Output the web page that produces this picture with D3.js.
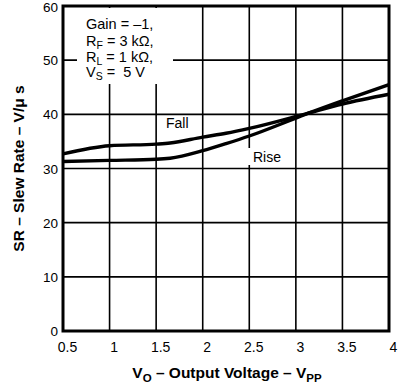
<!DOCTYPE html>
<html><head><meta charset="utf-8">
<script src="https://cdn.jsdelivr.net/npm/d3@7"></script>
<style>body{margin:0;background:#fff}svg{display:block}text{font-family:"Liberation Sans",Arial,sans-serif;fill:#000}</style>
</head><body>
<svg id="c" width="400" height="387"></svg>
<script>
const xVals = [0.5, 1, 1.5, 1.65, 2, 2.25, 2.5, 3, 3.15, 3.5, 4];
const fall  = [32.7, 34.2, 34.5, 34.7, 35.8, 36.5, 37.4, 39.6, 40.3, 41.9, 43.7];
const rise  = [31.3, 31.5, 31.7, 31.9, 33.3, 34.6, 36.0, 39.3, 40.3, 42.5, 45.5];
const xTicks = [0.5, 1, 1.5, 2, 2.5, 3, 3.5, 4];
const yTicks = [0, 10, 20, 30, 40, 50, 60];

const L = 63, R = 389, T = 6, B = 331;
const svg = d3.select("#c");
const x = d3.scaleLinear().domain([0.5, 4]).range([L, R]);
const y = d3.scaleLinear().domain([0, 60]).range([B, T]);

// grid
const g = svg.append("g");
g.selectAll(".vx").data(xTicks).enter().append("line")
  .attr("x1", d => x(d)).attr("x2", d => x(d)).attr("y1", T).attr("y2", B)
  .attr("stroke", "#000").attr("stroke-width", 1.6);
g.selectAll(".hy").data(yTicks).enter().append("line")
  .attr("x1", L).attr("x2", R).attr("y1", d => y(d)).attr("y2", d => y(d))
  .attr("stroke", "#000").attr("stroke-width", 1.6);

// white boxes behind labels
svg.append("rect").attr("x", 77).attr("y", T + 2).attr("width", 96).attr("height", 76).attr("fill", "#fff");
svg.append("rect").attr("x", 247).attr("y", 148).attr("width", 40).attr("height", 17).attr("fill", "#fff");

// frame
svg.append("rect").attr("x", L).attr("y", T).attr("width", R - L).attr("height", B - T)
  .attr("fill", "none").attr("stroke", "#000").attr("stroke-width", 3);

// curves
const line = d3.line().x((d, i) => x(xVals[i])).y(d => y(d)).curve(d3.curveMonotoneX);
[fall, rise].forEach(s => {
  svg.append("path").attr("d", line(s)).attr("fill", "none")
    .attr("stroke", "#000").attr("stroke-width", 3.4).attr("stroke-linejoin", "round");
});

// axes labels
const xAxis = d3.axisBottom(x).tickValues(xTicks).tickSize(0).tickFormat(d3.format("~g"));
const ax = svg.append("g").attr("transform", `translate(0,${B})`).call(xAxis);
ax.select(".domain").remove();
ax.selectAll("text").attr("dx", 4).attr("dy", 0).attr("y", 21).style("font-size", "14px")
  .style("font-family", '"Liberation Sans",Arial,sans-serif');

const yAxis = d3.axisLeft(y).tickValues(yTicks).tickSize(0);
const ay = svg.append("g").attr("transform", `translate(${L},0)`).call(yAxis);
ay.select(".domain").remove();
ay.selectAll("text").attr("x", -5).attr("dy", "0.34em").style("font-size", "13.5px")
  .style("font-family", '"Liberation Sans",Arial,sans-serif');
ay.selectAll(".tick").filter(d => d === 60).select("text").attr("dy", "0.4em");

// annotation
const rows = [["Gain = \u20131,", null, ""], ["R", "F", " = 3 k\u03A9,"], ["R", "L", " = 1 k\u03A9,"], ["V", "S", " =\u00A0 5 V"]];
const baseY = [29, 45.5, 61.5, 77];
rows.forEach((r, i) => {
  const t = svg.append("text").attr("x", 86).attr("y", baseY[i]).style("font-size", "14.5px");
  t.append("tspan").text(r[0]);
  if (r[1]) {
    t.append("tspan").attr("dy", 3).style("font-size", "10.5px").text(r[1]);
    t.append("tspan").attr("dy", -3).text(r[2]);
  }
});

svg.append("text").attr("x", 166).attr("y", 128).style("font-size", "14px").text("Fall");
svg.append("text").attr("x", 253).attr("y", 162).style("font-size", "14px").text("Rise");

// x title
const xt = svg.append("text").attr("x", 227).attr("y", 378).attr("text-anchor", "middle")
  .style("font-size", "15.5px").style("font-weight", "bold");
xt.append("tspan").text("V");
xt.append("tspan").attr("dy", 4).style("font-size", "11.5px").text("O");
xt.append("tspan").attr("dy", -4).text(" \u2013 Output Voltage \u2013 V");
xt.append("tspan").attr("dy", 4).style("font-size", "11.5px").text("PP");

// y title
svg.append("text").attr("transform", `translate(24,${(T + B) / 2}) rotate(-90)`)
  .attr("text-anchor", "middle").style("font-size", "15.5px").style("font-weight", "bold")
  .text("SR \u2013 Slew Rate \u2013 V/\u03BC s");
</script>
</body></html>
